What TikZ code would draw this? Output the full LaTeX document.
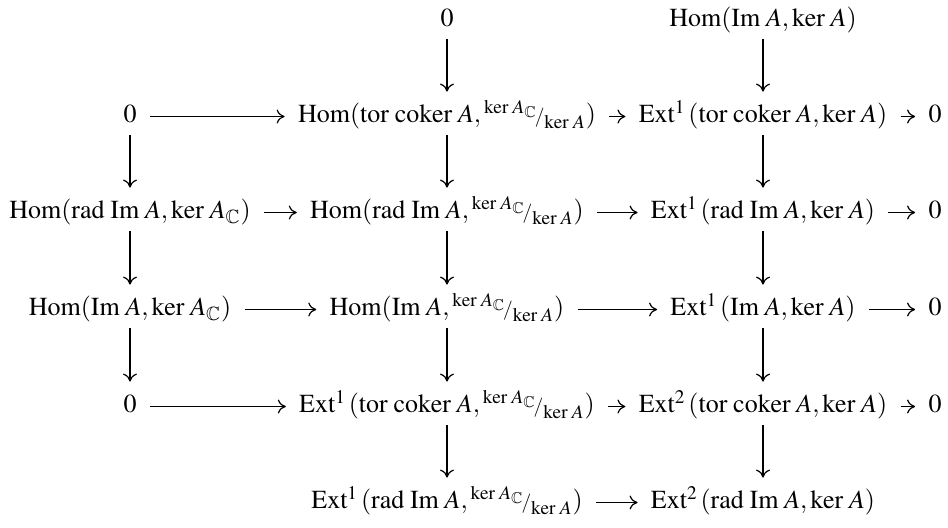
\documentclass[tikz,border=0pt]{standalone}
\usepackage{amsmath,amssymb}
\usepackage{mathptmx}
\usepackage[no-math]{fontspec}
\setmainfont{Liberation Serif}
\usetikzlibrary{arrows.meta}
\newcommand{\oHom}{\operatorname{Hom}}
\newcommand{\oExt}[1]{\operatorname{Ext}^{#1}\mkern2mu}
\newcommand{\orad}{\operatorname{rad}\,}
\newcommand{\oIm}{\operatorname{Im}\,}
\newcommand{\otor}{\operatorname{tor}\,}
\newcommand{\ocoker}{\operatorname{coker}\,}
\newcommand{\oker}{\ker\,}
\newcommand{\kq}{{}^{\oker A_{\mathbb{C}}}\!{\scriptstyle/}_{\oker A}}
\tikzset{
  cell/.style={anchor=base, inner sep=0pt, text height=12pt, text depth=5.5pt},
  harr/.style={-{To[length=4pt,width=7pt]}, line width=0.6pt, shorten <=6.5pt, shorten >=6.5pt},
  varr/.style={-{To[length=4pt,width=7pt]}, line width=0.6pt, shorten <=0.5pt, shorten >=3.5pt}
}
\begin{document}
\begin{tikzpicture}[x=0.5pt,y=-0.5pt,font=\fontsize{13}{15}\selectfont]
\useasboundingbox (0,0) rectangle (948,528);
% row 0
\node[cell] (n01) at (447,27) {$0$};
\node[cell] (n02) at (763,27) {$\oHom(\oIm A,\oker A)$};
% row 1
\node[cell] (n10) at (130,123) {$0$};
\node[cell] (n11) at (447,123) {$\oHom(\otor\ocoker A,\kq)$};
\node[cell] (n12) at (763,123) {$\oExt{1}(\otor\ocoker A,\oker A)$};
\node[cell] (n13) at (935,123) {$0$};
% row 2
\node[cell] (n20) at (130,219) {$\oHom(\orad\oIm A,\oker A_{\mathbb{C}})$};
\node[cell] (n21) at (447,219) {$\oHom(\orad\oIm A,\kq)$};
\node[cell] (n22) at (763,219) {$\oExt{1}(\orad\oIm A,\oker A)$};
\node[cell] (n23) at (935,219) {$0$};
% row 3
\node[cell] (n30) at (130,316) {$\oHom(\oIm A,\oker A_{\mathbb{C}})$};
\node[cell] (n31) at (447,316) {$\oHom(\oIm A,\kq)$};
\node[cell] (n32) at (763,316) {$\oExt{1}(\oIm A,\oker A)$};
\node[cell] (n33) at (935,316) {$0$};
% row 4
\node[cell] (n40) at (130,413) {$0$};
\node[cell] (n41) at (447,413) {$\oExt{1}(\otor\ocoker A,\kq)$};
\node[cell] (n42) at (763,413) {$\oExt{2}(\otor\ocoker A,\oker A)$};
\node[cell] (n43) at (935,413) {$0$};
% row 5
\node[cell] (n51) at (447,509) {$\oExt{1}(\orad\oIm A,\kq)$};
\node[cell] (n52) at (763,509) {$\oExt{2}(\orad\oIm A,\oker A)$};
% vertical arrows
\draw[varr] (n01.south) -- (n11.north);
\draw[varr] (n02.south) -- (n12.north);
\draw[varr] (n10.south) -- (n20.north);
\draw[varr] (n20.south) -- (n30.north);
\draw[varr] (n30.south) -- (n40.north);
\draw[varr] (n11.south) -- (n21.north);
\draw[varr] (n21.south) -- (n31.north);
\draw[varr] (n31.south) -- (n41.north);
\draw[varr] (n41.south) -- (n51.north);
\draw[varr] (n12.south) -- (n22.north);
\draw[varr] (n22.south) -- (n32.north);
\draw[varr] (n32.south) -- (n42.north);
\draw[varr] (n42.south) -- (n52.north);
% horizontal arrows
\draw[harr] (n10) -- (n11);
\draw[harr] (n11) -- (n12);
\draw[harr] (n12) -- (n13);
\draw[harr] (n20) -- (n21);
\draw[harr] (n21) -- (n22);
\draw[harr] (n22) -- (n23);
\draw[harr] (n30) -- (n31);
\draw[harr] (n31) -- (n32);
\draw[harr] (n32) -- (n33);
\draw[harr] (n40) -- (n41);
\draw[harr] (n41) -- (n42);
\draw[harr] (n42) -- (n43);
\draw[harr] (n51) -- (n52);
\end{tikzpicture}
\end{document}
